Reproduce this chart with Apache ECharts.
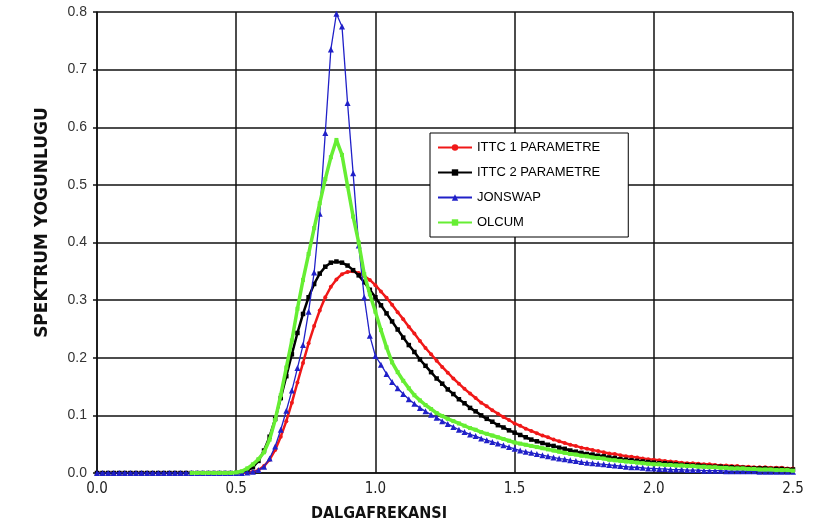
<!DOCTYPE html>
<html><head><meta charset="utf-8">
<script src="https://cdn.jsdelivr.net/npm/echarts@6/dist/echarts.min.js"></script>
<style>html,body{margin:0;padding:0;background:#fff}#c{width:815px;height:527px}</style>
</head><body><div id="c"></div>
<script>
// Frequency grid (x values)
const freq = [
0,0.02,0.04,0.06,0.08,0.10,0.12,0.14,0.16,0.18,
0.20,0.22,0.24,0.26,0.28,0.30,0.32,0.34,0.36,0.38,
0.40,0.42,0.44,0.46,0.48,0.50,0.52,0.54,0.56,0.58,
0.60,0.62,0.64,0.66,0.68,0.70,0.72,0.74,0.76,0.78,
0.80,0.82,0.84,0.86,0.88,0.90,0.92,0.94,0.96,0.98,
1.00,1.02,1.04,1.06,1.08,1.10,1.12,1.14,1.16,1.18,
1.20,1.22,1.24,1.26,1.28,1.30,1.32,1.34,1.36,1.38,
1.40,1.42,1.44,1.46,1.48,1.50,1.52,1.54,1.56,1.58,
1.60,1.62,1.64,1.66,1.68,1.70,1.72,1.74,1.76,1.78,
1.80,1.82,1.84,1.86,1.88,1.90,1.92,1.94,1.96,1.98,
2.00,2.02,2.04,2.06,2.08,2.10,2.12,2.14,2.16,2.18,
2.20,2.22,2.24,2.26,2.28,2.30,2.32,2.34,2.36,2.38,
2.40,2.42,2.44,2.46,2.48,2.50];

const ittc1 = [
0,0,0,0,0,0,0,0,0,0,
0,0,0,0,0,0,0,0,0,0,
0,0,0,0,0,0,0,0.001,0.002,0.005,
0.012,0.023,0.040,0.063,0.090,0.122,0.157,0.191,0.225,0.255,
0.282,0.305,0.323,0.336,0.345,0.349,0.350,0.347,0.342,0.335,
0.326,0.315,0.304,0.292,0.279,0.267,0.254,0.242,0.229,0.217,
0.206,0.195,0.184,0.174,0.164,0.155,0.146,0.138,0.130,0.122,
0.116,0.109,0.103,0.097,0.092,0.086,0.082,0.077,0.073,0.069,
0.065,0.062,0.058,0.055,0.052,0.049,0.047,0.044,0.042,0.040,
0.038,0.036,0.034,0.033,0.031,0.029,0.028,0.027,0.025,0.024,
0.023,0.022,0.021,0.020,0.019,0.018,0.017,0.017,0.016,0.015,
0.015,0.014,0.013,0.013,0.012,0.012,0.011,0.011,0.010,0.010,
0.010,0.009,0.009,0.009,0.008,0.008];

const ittc2 = [
0,0,0,0,0,0,0,0,0,0,
0,0,0,0,0,0,0,0,0,0,
0,0,0,0,0,0,0.001,0.004,0.010,0.021,
0.039,0.063,0.094,0.130,0.168,0.206,0.243,0.276,0.305,0.328,
0.346,0.358,0.365,0.367,0.365,0.360,0.352,0.343,0.331,0.318,
0.305,0.291,0.277,0.263,0.249,0.235,0.222,0.210,0.197,0.186,
0.175,0.164,0.155,0.145,0.137,0.128,0.121,0.113,0.107,0.100,
0.094,0.089,0.083,0.079,0.074,0.070,0.066,0.062,0.058,0.055,
0.052,0.049,0.047,0.044,0.042,0.039,0.037,0.035,0.033,0.032,
0.030,0.029,0.027,0.026,0.024,0.023,0.022,0.021,0.020,0.019,
0.018,0.017,0.017,0.016,0.015,0.014,0.014,0.013,0.013,0.012,
0.011,0.011,0.011,0.010,0.010,0.009,0.009,0.008,0.008,0.008,
0.008,0.007,0.007,0.007,0.006,0.006];

const jonswap = [
0,0,0,0,0,0,0,0,0,0,
0,0,0,0,0,0,0,0,0,0,
0,0,0,0,0,0,0,0.001,0.002,0.005,
0.011,0.025,0.046,0.075,0.108,0.143,0.182,0.222,0.280,0.348,
0.450,0.590,0.735,0.797,0.775,0.642,0.520,0.395,0.305,0.238,
0.203,0.188,0.172,0.158,0.147,0.137,0.128,0.120,0.113,0.107,
0.101,0.096,0.090,0.085,0.080,0.075,0.071,0.067,0.064,0.060,
0.057,0.054,0.051,0.048,0.045,0.042,0.039,0.037,0.035,0.033,
0.031,0.029,0.027,0.025,0.024,0.022,0.021,0.019,0.018,0.017,
0.016,0.015,0.014,0.013,0.012,0.011,0.010,0.010,0.009,0.008,
0.008,0.007,0.007,0.006,0.006,0.006,0.005,0.005,0.005,0.004,
0.004,0.004,0.004,0.003,0.003,0.003,0.003,0.003,0.003,0.002,
0.002,0.002,0.002,0.002,0.002,0.002];

const olcum = [
null,null,null,null,null,null,null,null,null,null,
null,null,null,null,null,null,null,0,0,0,
0,0,0,0,0,0.001,0.003,0.008,0.015,0.024,
0.036,0.058,0.092,0.135,0.183,0.230,0.285,0.335,0.380,0.425,
0.468,0.510,0.548,0.578,0.552,0.498,0.445,0.400,0.345,0.310,
0.280,0.248,0.218,0.192,0.175,0.160,0.147,0.135,0.126,0.118,
0.111,0.104,0.099,0.094,0.090,0.086,0.082,0.078,0.075,0.071,
0.068,0.065,0.062,0.059,0.056,0.053,0.051,0.049,0.047,0.045,
0.043,0.041,0.039,0.037,0.035,0.033,0.032,0.030,0.029,0.027,
0.026,0.025,0.023,0.022,0.021,0.020,0.019,0.018,0.017,0.016,
0.015,0.015,0.014,0.014,0.013,0.013,0.012,0.012,0.011,0.011,
0.010,0.010,0.009,0.009,0.008,0.008,0.008,0.007,0.007,0.006,
0.006,0.006,0.005,0.005,0.005,0.004];

const seriesNames = ['ITTC 1 PARAMETRE','ITTC 2 PARAMETRE','JONSWAP','OLCUM'];
const xAxisTitle = 'DALGAFREKANSI';
const yAxisTitle = 'SPEKTRUM YOGUNLUGU';

function pairs(ys){
  const out = [];
  for (let i = 0; i < freq.length; i++) if (ys[i] != null) out.push([freq[i], ys[i]]);
  return out;
}

const chart = echarts.init(document.getElementById('c'), null, {renderer:'canvas'});
const gridColor = '#111';
chart.setOption({
  animation: false,
  backgroundColor: '#fff',
  grid: {left: 97, right: 22, top: 12, bottom: 52, containLabel: false},
  legend: {
    orient: 'vertical', left: 430, top: 133,
    backgroundColor: '#fff', borderColor: '#000', borderWidth: 1, borderRadius: 0,
    padding: [8, 28, 8, 7],
    itemWidth: 34, itemHeight: 8, itemGap: 12,
    textStyle: {fontSize: 13, color: '#000', fontFamily: "'Liberation Sans', Arial, sans-serif", lineHeight: 13},
    data: seriesNames
  },
  xAxis: {
    type: 'value', min: 0, max: 2.5, interval: 0.5,
    name: xAxisTitle, nameLocation: 'middle', nameGap: 33,
    nameTextStyle: {fontSize: 16, fontWeight: 'bold', color: '#111',
      fontFamily: "'Liberation Sans Narrow','DejaVu Sans Condensed',sans-serif", padding: [0, 132, 0, 0]},
    axisLine: {show: true, lineStyle: {color: gridColor, width: 1.5}},
    axisTick: {show: false},
    axisLabel: {margin: 9, fontSize: 15, color: '#222',
      fontFamily: "'Liberation Sans Narrow','DejaVu Sans Condensed',sans-serif",
      formatter: v => v.toFixed(1)},
    splitLine: {show: true, lineStyle: {color: gridColor, width: 1.5}}
  },
  yAxis: {
    type: 'value', min: 0, max: 0.8, interval: 0.1,
    name: yAxisTitle, nameLocation: 'middle', nameGap: 46, nameRotate: 90,
    nameTextStyle: {fontSize: 17, fontWeight: 'bold', color: '#111',
      fontFamily: "'DejaVu Sans', sans-serif", padding: [0, 0, 0, 40]},
    axisLine: {show: true, lineStyle: {color: gridColor, width: 1.5}},
    axisTick: {show: true, length: 4, lineStyle: {color: gridColor, width: 1.5}},
    axisLabel: {margin: 10, fontSize: 14, color: '#333',
      fontFamily: "'Liberation Sans', Arial, sans-serif",
      formatter: v => v.toFixed(1)},
    splitLine: {show: true, lineStyle: {color: gridColor, width: 1.5}}
  },
  series: [
    {name: seriesNames[0], type: 'line', data: pairs(ittc1), color: '#f01818',
     symbol: 'circle', symbolSize: 4, showAllSymbol: true,
     lineStyle: {width: 2.5}, z: 2},
    {name: seriesNames[1], type: 'line', data: pairs(ittc2), color: '#000000',
     symbol: 'rect', symbolSize: 4.5, showAllSymbol: true,
     lineStyle: {width: 2.5}, z: 3},
    {name: seriesNames[2], type: 'line', data: pairs(jonswap), color: '#2020c8',
     symbol: 'triangle', symbolSize: 6, showAllSymbol: true,
     lineStyle: {width: 1.3}, z: 4},
    {name: seriesNames[3], type: 'line', data: pairs(olcum), color: '#66ee33',
     symbol: 'rect', symbolSize: 4, showAllSymbol: true,
     lineStyle: {width: 3.5}, z: 5}
  ]
});
</script>
</body></html>
